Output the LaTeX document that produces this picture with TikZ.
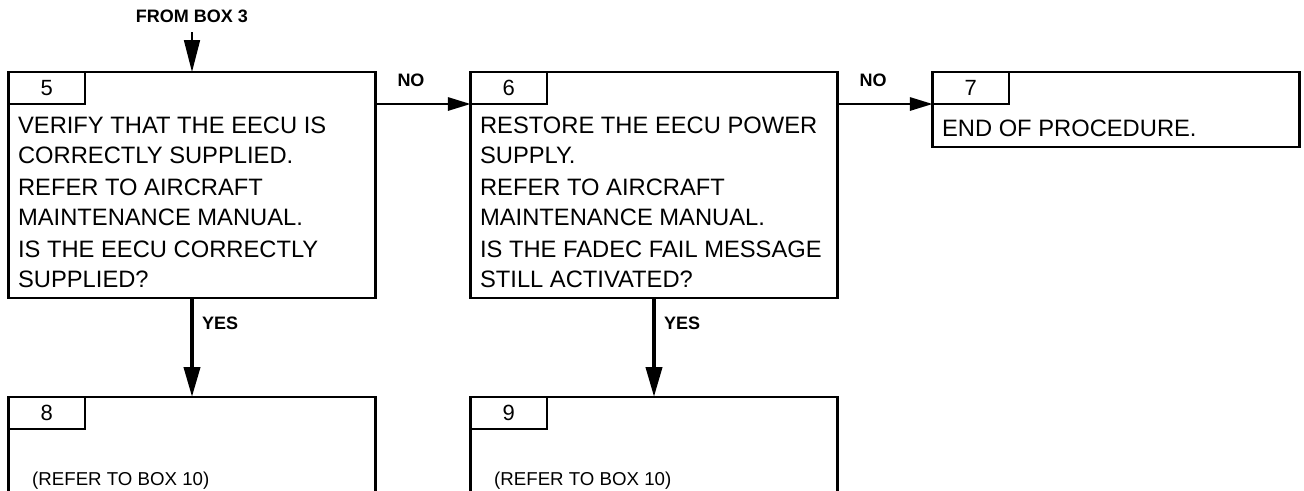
\documentclass[tikz,border=0pt]{standalone}
\usepackage{fontspec}
\setmainfont{Liberation Sans}
\usetikzlibrary{arrows.meta, positioning}

\begin{document}
\begin{tikzpicture}[
  x=0.75pt, y=0.75pt,
  box/.style={draw=black, line width=1.6pt, minimum width=275.25pt, inner sep=0pt, outer sep=0pt},
  tab/.style={draw=black, line width=1.6pt, minimum width=57.4pt, minimum height=24pt, inner sep=0pt, outer sep=0pt, font=\fontsize{16.5}{18}\selectfont},
  txt/.style={align=left, inner sep=0pt, font=\fontsize{17.8}{22.2}\selectfont},
  note/.style={inner sep=0pt, font=\fontsize{14}{16}\selectfont},
  lbl/.style={inner sep=0pt, font=\bfseries\fontsize{13.5}{15}\selectfont},
  yesarrow/.style={line width=3pt, -{Triangle[length=22.5pt, width=12pt]}},
  noarrow/.style={line width=1.5pt, -{Triangle[length=17pt, width=10pt]}},
  fromarrow/.style={line width=1.3pt, -{Triangle[length=24pt, width=12pt]}},
  node distance=71.25pt
]
\useasboundingbox (0,0) rectangle (1304,-490);
\clip (0,0) rectangle (1304,-490);
\fill[white] (0,0) rectangle (1304,-490);

% top row
\node[box, minimum height=169.5pt, anchor=north west] (b5) at (8.5,-72) {};
\node[box, minimum height=169.5pt, right=of b5] (b6) {};
\node[box, minimum height=56.25pt, right=of b6.north east, anchor=north west] (b7) {};
% bottom row (cut by the page)
\node[box, minimum height=150pt, below=74.25pt of b5] (b8) {};
\node[box, minimum height=150pt, below=74.25pt of b6] (b9) {};

\node[tab, anchor=north west] (t5) at (b5.north west) {5};
\node[tab, anchor=north west] (t6) at (b6.north west) {6};
\node[tab, anchor=north west] (t7) at (b7.north west) {7};
\node[tab, anchor=north west] (t8) at (b8.north west) {8};
\node[tab, anchor=north west] (t9) at (b9.north west) {9};

\node[txt, below right=9.5pt and 7pt of t5.south west] (x5) {VERIFY THAT THE EECU IS\\ CORRECTLY SUPPLIED.\\[2.2pt]
  REFER TO AIRCRAFT\\ MAINTENANCE MANUAL.\\[2.2pt] IS THE EECU CORRECTLY\\ SUPPLIED?};
\node[txt, below right=9.5pt and 7pt of t6.south west] (x6) {RESTORE THE EECU POWER\\ SUPPLY.\\[2.2pt]
  REFER TO AIRCRAFT\\ MAINTENANCE MANUAL.\\[2.2pt] IS THE FADEC FAIL MESSAGE\\ STILL ACTIVATED?};
\node[txt, below right=12pt and 7pt of t7.south west] (x7) {END OF PROCEDURE.};
\node[note, anchor=base west] (r8) at ([shift={(17.6pt,-42pt)}]t8.south west) {(REFER TO BOX 10)};
\node[note, anchor=base west] (r9) at ([shift={(17.6pt,-42pt)}]t9.south west) {(REFER TO BOX 10)};

% connectors
\coordinate[above=30pt of b5.north] (in5);
\node[lbl, above=7pt of in5] (from) {FROM BOX 3};
\draw[fromarrow] (in5) -- (b5.north);
\draw[noarrow] (t6.south west -| b5.east) -- node[lbl, pos=0, above right=12pt and 15.75pt] {NO} (t6.south west);
\draw[noarrow] (t7.south west -| b6.east) -- node[lbl, pos=0, above right=12pt and 15.75pt] {NO} (t7.south west);
\draw[yesarrow] (b5.south) -- node[lbl, pos=0, below right=12.75pt and 6pt] {YES} (b8.north);
\draw[yesarrow] (b6.south) -- node[lbl, pos=0, below right=12.75pt and 6pt] {YES} (b9.north);
\end{tikzpicture}
\end{document}
